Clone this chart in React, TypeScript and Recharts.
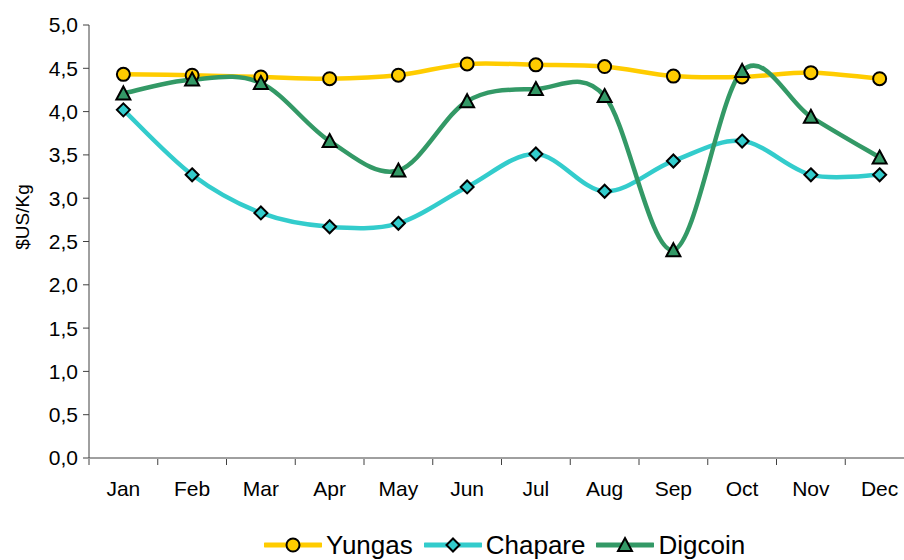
import React from 'react';
import { LineChart, Line, XAxis, YAxis, Label } from 'recharts';

const months = ['Jan', 'Feb', 'Mar', 'Apr', 'May', 'Jun', 'Jul', 'Aug', 'Sep', 'Oct', 'Nov', 'Dec'];
const yungas = [4.43, 4.42, 4.40, 4.38, 4.42, 4.55, 4.54, 4.52, 4.41, 4.40, 4.45, 4.38];
const chapare = [4.02, 3.27, 2.83, 2.67, 2.71, 3.13, 3.51, 3.08, 3.43, 3.66, 3.27, 3.27];
const digcoin = [4.21, 4.37, 4.33, 3.66, 3.32, 4.12, 4.26, 4.18, 2.40, 4.47, 3.94, 3.47];
const yTicks = [0, 0.5, 1, 1.5, 2, 2.5, 3, 3.5, 4, 4.5, 5];

const data = months.map((m, i) => ({
    month: m,
    Yungas: yungas[i],
    Chapare: chapare[i],
    Digcoin: digcoin[i],
}));

const YELLOW = '#FFCC00';
const CYAN = '#33CCCC';
const GREEN = '#339966';
const AXIS = '#404040';
const FONT = '"Liberation Sans", Arial, sans-serif';

const PLOT_LEFT = 89;
const PLOT_WIDTH = 825;
const HALF_BAND = PLOT_WIDTH / months.length / 2;

// Excel-style smoothed line (uniform Catmull-Rom as cubic beziers)
const excelSmooth = (context: any) => {
    let pts: [number, number][] = [];
    return {
        areaStart() {},
        areaEnd() {},
        lineStart() { pts = []; },
        point(x: number, y: number) { pts.push([+x, +y]); },
        lineEnd() {
            if (!pts.length) return;
            context.moveTo(pts[0][0], pts[0][1]);
            for (let i = 0; i < pts.length - 1; i++) {
                const p0 = pts[Math.max(i - 1, 0)];
                const p1 = pts[i];
                const p2 = pts[i + 1];
                const p3 = pts[Math.min(i + 2, pts.length - 1)];
                context.bezierCurveTo(
                    p1[0] + (p2[0] - p0[0]) / 6, p1[1] + (p2[1] - p0[1]) / 6,
                    p2[0] - (p3[0] - p1[0]) / 6, p2[1] - (p3[1] - p1[1]) / 6,
                    p2[0], p2[1],
                );
            }
        },
    };
};

const CircleDot = (props: any) => {
    const { cx, cy } = props;
    if (cx == null || cy == null) return null;
    return <circle cx={cx} cy={cy} r={6.5} fill={YELLOW} stroke="#000" strokeWidth={2} />;
};

const DiamondDot = (props: any) => {
    const { cx, cy } = props;
    if (cx == null || cy == null) return null;
    const s = 6.5;
    return (
        <path d={`M${cx},${cy - s}L${cx + s},${cy}L${cx},${cy + s}L${cx - s},${cy}Z`}
            fill={CYAN} stroke="#000" strokeWidth={2} />
    );
};

const TriangleDot = (props: any) => {
    const { cx, cy } = props;
    if (cx == null || cy == null) return null;
    return (
        <path d={`M${cx},${cy - 7}L${cx + 7},${cy + 6}L${cx - 7},${cy + 6}Z`}
            fill={GREEN} stroke="#000" strokeWidth={2} />
    );
};

// category label in the middle, tick mark on the category boundary
const MonthTick = (props: any) => {
    const { x, y, payload, index } = props;
    const last = index === months.length - 1;
    return (
        <g>
            <line x1={x - HALF_BAND} y1={y - 1} x2={x - HALF_BAND} y2={y + 5} stroke={AXIS} />
            {last && <line x1={x + HALF_BAND} y1={y - 1} x2={x + HALF_BAND} y2={y + 5} stroke={AXIS} />}
            <text x={x} y={y + 36} textAnchor="middle" fill="#000" fontSize={21} fontFamily={FONT}>
                {payload.value}
            </text>
        </g>
    );
};

const YTitle = () => (
    <text x={22} y={217} transform="rotate(-90, 22, 217)" textAnchor="middle" dominantBaseline="central"
        fill="#000" fontSize={19} fontFamily={FONT}>
        $US/Kg
    </text>
);

const legendItems = [
    { name: 'Yungas', color: YELLOW, Dot: CircleDot },
    { name: 'Chapare', color: CYAN, Dot: DiamondDot },
    { name: 'Digcoin', color: GREEN, Dot: TriangleDot },
];

const App = () => {
    return (
        <div style={{ position: 'relative', width: 904, height: 560, overflow: 'hidden', background: '#fff' }}>
            <style>{'body{margin:0;overflow:hidden;}'}</style>
            <LineChart width={PLOT_LEFT + PLOT_WIDTH} height={560} data={data} margin={{ top: 25, right: 0, bottom: 0, left: 0 }}>
                <XAxis
                    dataKey="month"
                    height={102}
                    stroke={AXIS}
                    tickLine={false}
                    tickSize={0}
                    padding={{ left: HALF_BAND, right: HALF_BAND }}
                    tick={<MonthTick />}
                    interval={0}
                />
                <YAxis
                    width={PLOT_LEFT}
                    domain={[0, 5]}
                    ticks={yTicks}
                    interval={0}
                    stroke={AXIS}
                    tickSize={6}
                    tickMargin={5}
                    tick={{ fill: '#000', fontSize: 21, fontFamily: FONT }}
                    tickFormatter={(v: number) => v.toFixed(1).replace('.', ',')}
                >
                    <Label content={<YTitle />} />
                </YAxis>
                <Line type={excelSmooth as any} dataKey="Yungas" stroke={YELLOW} strokeWidth={4.5}
                    dot={<CircleDot />} activeDot={false} isAnimationActive={false} />
                <Line type={excelSmooth as any} dataKey="Chapare" stroke={CYAN} strokeWidth={4.5}
                    dot={<DiamondDot />} activeDot={false} isAnimationActive={false} />
                <Line type={excelSmooth as any} dataKey="Digcoin" stroke={GREEN} strokeWidth={4.5}
                    dot={<TriangleDot />} activeDot={false} isAnimationActive={false} />
            </LineChart>
            <div style={{ position: 'absolute', left: 264, top: 532, display: 'flex', alignItems: 'center', fontFamily: FONT, fontSize: 26, color: '#000', lineHeight: '26px' }}>
                {legendItems.map(({ name, color, Dot }) => (
                    <div key={name} style={{ display: 'flex', alignItems: 'center', marginRight: 11 }}>
                        <svg width={58} height={20}>
                            <line x1={1} y1={10} x2={57} y2={10} stroke={color} strokeWidth={5} strokeLinecap="round" />
                            <Dot cx={29} cy={10} />
                        </svg>
                        <span style={{ marginLeft: 4 }}>{name}</span>
                    </div>
                ))}
            </div>
        </div>
    );
};

export default App;
